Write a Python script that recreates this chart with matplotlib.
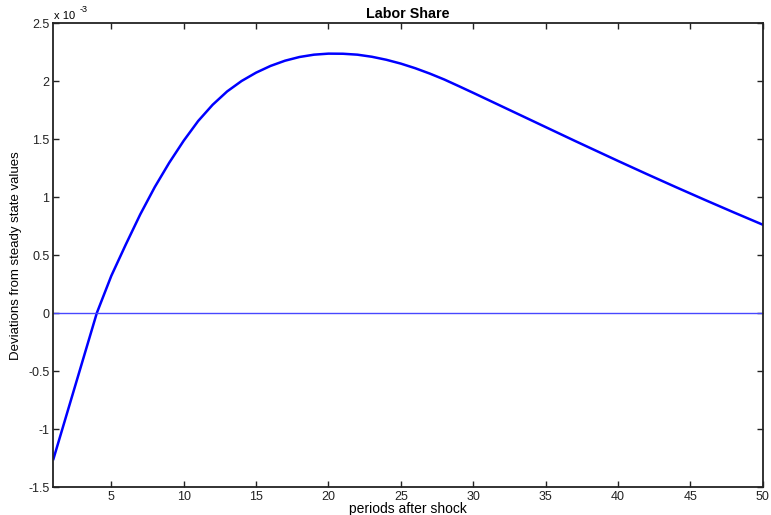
import numpy as np
import matplotlib.pyplot as plt
from matplotlib.ticker import FuncFormatter

plt.rcParams['font.family'] = ['Liberation Sans', 'DejaVu Sans']

# impulse response of the labor share (in units of 1e-3)
periods = np.arange(1, 51)
labor_share = [-1.256, -0.836, -0.416, 0.004, 0.324, 0.594, 0.854, 1.089, 1.299, 1.489,
               1.659, 1.799, 1.914, 2.004, 2.076, 2.134, 2.179, 2.211, 2.231, 2.240,
               2.239, 2.231, 2.213, 2.187, 2.154, 2.114, 2.068, 2.017, 1.960, 1.902,
               1.843, 1.784, 1.725, 1.666, 1.607, 1.548, 1.489, 1.431, 1.373, 1.315,
               1.258, 1.201, 1.145, 1.089, 1.034, 0.979, 0.925, 0.871, 0.818, 0.765]
scale = 1e-3

fig = plt.figure(figsize=(7.71, 5.15), dpi=100)
ax = fig.add_axes([0.0693, 0.0538, 0.9199, 0.9006])

ax.plot(periods, np.array(labor_share) * scale, color='#0000ff', lw=1.8)
ax.axhline(0, color='#4848ff', lw=1.0)

ax.set_xlim(1, 50)
ax.set_ylim(-1.5e-3, 2.5e-3)
ax.set_xticks(np.arange(5, 51, 5))
ax.set_yticks(np.arange(-1.5, 2.51, 0.5) * scale)
ax.yaxis.set_major_formatter(FuncFormatter(lambda v, p: f'{v / scale:g}'))
ax.tick_params(direction='in', length=4, width=1, top=True, right=True,
               labelsize=9, colors='#222222', pad=3)
for s in ax.spines.values():
    s.set_linewidth(1.3)
    s.set_color('#222222')

# exponent label above the y axis
ax.text(0.001, 1.006, 'x 10', transform=ax.transAxes, fontsize=8,
        ha='left', va='bottom')
ax.annotate('-3', xy=(0.001, 1.006), xycoords='axes fraction',
            xytext=(18.5, 4.5), textcoords='offset points', fontsize=6.5,
            ha='left', va='bottom')

ax.set_title('Labor Share', fontsize=10.3, fontweight='bold', pad=4)
ax.set_xlabel('periods after shock', fontsize=10, labelpad=-1)
ax.set_ylabel('Deviations from steady state values', fontsize=9.5, labelpad=4)

fig.savefig('out.png', dpi=100)
